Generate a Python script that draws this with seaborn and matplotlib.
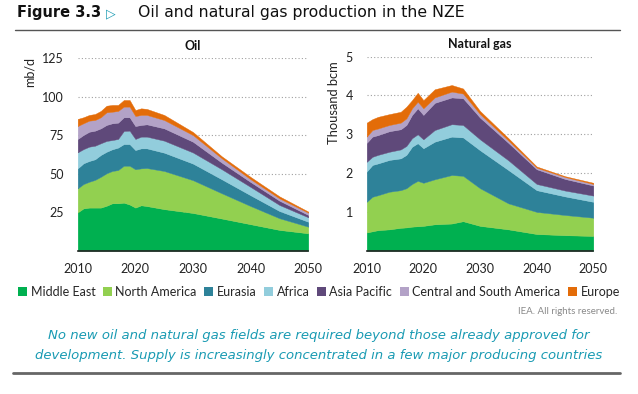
import matplotlib
matplotlib.use("Agg")
import matplotlib.pyplot as plt
import seaborn as sns
from matplotlib.patches import Patch

# ---------------- data ----------------
regions = ["Middle East", "North America", "Eurasia", "Africa", "Asia Pacific",
           "Central and South America", "Europe"]
colors = ["#00b050", "#92d050", "#2e8299", "#92cddc", "#5f497a", "#b3a2c7", "#e36c09"]

oil_years = [2010, 2011, 2012, 2013, 2014, 2015, 2016, 2017, 2018, 2019, 2020, 2021,
             2022, 2025, 2030, 2035, 2040, 2045, 2050]
oil_middle_east = [24.9, 27.5, 28.0, 28.0, 28.0, 29.2, 30.8, 30.8, 31.2, 30.0, 28.0, 29.5,
                   29.0, 27.0, 24.5, 20.9, 17.2, 13.5, 11.3]
oil_north_america = [15.6, 15.8, 16.8, 18.0, 20.0, 21.1, 21.0, 21.6, 24.0, 25.2, 24.9, 24.0,
                     24.7, 24.8, 21.3, 16.4, 11.8, 7.6, 4.3]
oil_eurasia = [13.0, 13.5, 13.5, 13.4, 14.2, 14.0, 14.1, 14.6, 14.1, 14.1, 12.5, 13.0,
               12.8, 11.9, 10.8, 9.1, 7.0, 4.7, 3.2]
oil_africa = [10.4, 9.2, 9.3, 8.8, 7.6, 7.0, 6.0, 5.6, 8.5, 8.7, 7.2, 7.6,
              7.6, 7.8, 7.2, 6.5, 5.4, 3.9, 2.9]
oil_asia_pacific = [8.7, 9.2, 9.7, 9.8, 9.7, 10.4, 10.9, 10.6, 8.9, 8.7, 8.4, 7.6,
                    8.0, 8.0, 7.0, 4.3, 3.2, 2.8, 1.5]
oil_csa = [8.4, 7.6, 7.2, 6.9, 7.2, 8.2, 7.5, 7.6, 6.9, 6.9, 6.5, 6.5,
           6.1, 5.4, 4.3, 2.8, 1.8, 1.5, 1.5]
oil_europe = [4.6, 3.9, 3.7, 3.9, 4.1, 4.3, 4.4, 3.9, 4.3, 4.3, 3.9, 4.3,
              3.9, 3.3, 2.0, 1.3, 1.5, 1.3, 0.7]

gas_years = [2010, 2011, 2012, 2014, 2016, 2017, 2018, 2019, 2020, 2022, 2025, 2027,
             2030, 2035, 2040, 2045, 2050]
gas_middle_east = [0.47, 0.50, 0.53, 0.55, 0.59, 0.60, 0.62, 0.63, 0.64, 0.68, 0.70, 0.76,
                   0.64, 0.55, 0.43, 0.40, 0.38]
gas_north_america = [0.79, 0.89, 0.90, 0.97, 0.97, 1.01, 1.10, 1.17, 1.11, 1.16, 1.25, 1.17,
                     0.97, 0.67, 0.57, 0.52, 0.47]
gas_eurasia = [0.78, 0.82, 0.82, 0.82, 0.82, 0.86, 0.96, 0.97, 0.89, 0.97, 0.99, 0.99,
               0.98, 0.86, 0.56, 0.48, 0.41]
gas_africa = [0.25, 0.21, 0.22, 0.21, 0.23, 0.23, 0.22, 0.23, 0.23, 0.30, 0.32, 0.32,
              0.28, 0.25, 0.16, 0.15, 0.16]
gas_asia_pacific = [0.49, 0.52, 0.51, 0.53, 0.52, 0.54, 0.60, 0.67, 0.63, 0.70, 0.69, 0.69,
                    0.56, 0.45, 0.38, 0.30, 0.26]
gas_csa = [0.16, 0.17, 0.17, 0.16, 0.17, 0.17, 0.17, 0.17, 0.17, 0.14, 0.15, 0.12,
           0.09, 0.06, 0.04, 0.05, 0.04]
gas_europe = [0.36, 0.28, 0.30, 0.28, 0.28, 0.30, 0.21, 0.23, 0.21, 0.21, 0.17, 0.13,
              0.08, 0.06, 0.03, 0.02, 0.03]

x_ticks = [2010, 2020, 2030, 2040, 2050]
oil_yticks = [25, 50, 75, 100, 125]
gas_yticks = [1, 2, 3, 4, 5]

# ---------------- style ----------------
sns.set_theme(style="white")
plt.rcParams["font.family"] = ["Lato", "DejaVu Sans"]

fig = plt.figure(figsize=(6.38, 3.94), dpi=100)

ax_oil = fig.add_axes([0.1218, 0.3637, 0.3614, 0.4883])
ax_gas = fig.add_axes([0.5748, 0.3637, 0.3552, 0.4924])

panels = [
    (ax_oil, oil_years, [oil_middle_east, oil_north_america, oil_eurasia, oil_africa,
                         oil_asia_pacific, oil_csa, oil_europe], oil_yticks, 125, "Oil"),
    (ax_gas, gas_years, [gas_middle_east, gas_north_america, gas_eurasia, gas_africa,
                         gas_asia_pacific, gas_csa, gas_europe], gas_yticks, 5, "Natural gas"),
]

for ax, yrs, series, yt, ymax, title in panels:
    ax.stackplot(yrs, *series, colors=colors, linewidth=0.3, edgecolor="face")
    ax.set_xlim(2010, 2050)
    ax.set_ylim(0, ymax)
    ax.set_xticks(x_ticks)
    ax.set_yticks(yt)
    ax.tick_params(axis="both", length=0, labelsize=9, colors="#222222")
    ax.tick_params(axis="x", pad=9)
    ax.tick_params(axis="y", pad=10)
    ax.set_axisbelow(True)
    ax.yaxis.grid(True, linestyle=(0, (1, 2)), color="#a0a0a0", linewidth=0.8)
    ax.xaxis.grid(False)
    for s in ["top", "right", "left"]:
        ax.spines[s].set_visible(False)
    ax.spines["bottom"].set_color("#222222")
    ax.spines["bottom"].set_linewidth(1.2)
    ax.set_title(title, fontsize=9, fontweight="bold", pad=6, color="#111111")

fig.text(30 / 638, 1 - 57 / 394, "mb/d", rotation=90, va="top", ha="center",
         fontsize=9, color="#222222")
fig.text(334 / 638, 1 - 61 / 394, "Thousand bcm", rotation=90, va="top", ha="center",
         fontsize=9.3, color="#222222")

# header
fig.text(17 / 638, 1 - 13 / 394, "Figure 3.3", fontsize=10.5, fontweight="bold",
         va="center", ha="left", family="DejaVu Sans", color="#111111")
fig.text(106 / 638, 1 - 13.5 / 394, "\u25B7", fontsize=9, va="center", ha="left",
         family="DejaVu Sans", color="#1a9bb3")
fig.text(138 / 638, 1 - 13 / 394, "Oil and natural gas production in the NZE",
         fontsize=11.3, va="center", ha="left", family="DejaVu Sans", color="#111111")
fig.add_artist(plt.Line2D([15 / 638, 620 / 638], [1 - 30 / 394, 1 - 30 / 394],
                          color="#555555", linewidth=1.0))

# legend
handles = [Patch(facecolor=c, edgecolor="none") for c in colors]
fig.legend(handles, regions, loc="center", bbox_to_anchor=(0.5, 1 - 292 / 394),
           ncol=7, frameon=False, fontsize=9, handlelength=0.7, handleheight=0.7,
           handletextpad=0.3, columnspacing=0.6, borderpad=0)

fig.text(617 / 638, 1 - 312 / 394, "IEA. All rights reserved.", fontsize=7,
         ha="right", va="center", color="#8a8a8a")

fig.text(319 / 638, 1 - 336 / 394,
         "No new oil and natural gas fields are required beyond those already approved for",
         fontsize=9.5, style="italic", ha="center", va="center", color="#1a9bb3",
         family="DejaVu Sans")
fig.text(319 / 638, 1 - 356 / 394,
         "development. Supply is increasingly concentrated in a few major producing countries",
         fontsize=9.5, style="italic", ha="center", va="center", color="#1a9bb3",
         family="DejaVu Sans")
fig.add_artist(plt.Line2D([13 / 638, 620 / 638], [1 - 373 / 394, 1 - 373 / 394],
                          color="#666666", linewidth=2.0))

fig.savefig("out.png", dpi=100)
